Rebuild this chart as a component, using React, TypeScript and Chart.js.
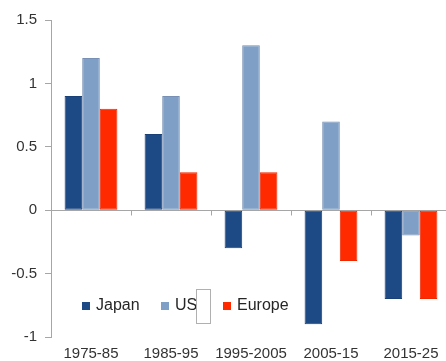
import React, { useEffect, useRef } from "react";
import { Chart, registerables } from "chart.js";

Chart.register(...registerables);

const categories = ["1975-85", "1985-95", "1995-2005", "2005-15", "2015-25"];
const japan = [0.9, 0.6, -0.3, -0.9, -0.7];
const us = [1.2, 0.9, 1.3, 0.7, -0.2];
const europe = [0.8, 0.3, 0.3, -0.4, -0.7];
const seriesNames = ["Japan", "US", "Europe"];

const colors = ["#1d4a85", "#7f9fc7", "#ff2a00"];
const borders = ["#1a4177", "#7890b4", "#f02800"];

const zeroLinePlugin = {
  id: "zeroLine",
  beforeDatasetsDraw(chart: any) {
    const { ctx, chartArea, scales } = chart;
    const y0 = Math.round(scales.y.getPixelForValue(0)) + 0.5;
    ctx.save();
    ctx.strokeStyle = "#a6a6a6";
    ctx.lineWidth = 1;
    ctx.beginPath();
    ctx.moveTo(chartArea.left, y0);
    ctx.lineTo(chartArea.right, y0);
    const n = chart.data.labels.length;
    const step = (chartArea.right - chartArea.left) / n;
    for (let i = 1; i < n; i++) {
      const x = Math.round(chartArea.left + step * i) + 0.5;
      ctx.moveTo(x, y0);
      ctx.lineTo(x, y0 + 5);
    }
    ctx.stroke();
    ctx.restore();
  },
};

const legendPlugin = {
  id: "customLegend",
  afterDraw(chart: any) {
    const { ctx } = chart;
    ctx.save();
    ctx.font = "16px 'Liberation Sans', Arial, sans-serif";
    ctx.textBaseline = "middle";
    const yc = 306;
    const starts = [82, 161, 223];
    chart.data.datasets.forEach((ds: any, i: number) => {
      const x = starts[i];
      ctx.fillStyle = ds.backgroundColor;
      ctx.fillRect(x, yc - 4, 8, 8);
      ctx.fillStyle = "#262626";
      ctx.fillText(ds.label, x + 14, yc);
    });
    // stray white box next to "US"
    ctx.fillStyle = "#ffffff";
    ctx.fillRect(196, 289, 14, 34);
    ctx.strokeStyle = "#b0b0b0";
    ctx.lineWidth = 1;
    ctx.strokeRect(196.5, 289.5, 14, 34);
    ctx.restore();
  },
};

export default function App() {
  const ref = useRef<HTMLCanvasElement | null>(null);
  useEffect(() => {
    if (!ref.current) return;
    const values = [japan, us, europe];
    const chart = new Chart(ref.current, {
      type: "bar",
      data: {
        labels: categories,
        datasets: seriesNames.map((name, i) => ({
          label: name,
          data: values[i],
          backgroundColor: colors[i],
          borderColor: borders[i],
          borderWidth: 1,
          borderSkipped: false,
          categoryPercentage: 0.66,
          barPercentage: 1,
        })),
      },
      options: {
        animation: false,
        responsive: false,
        maintainAspectRatio: false,
        layout: { padding: { top: 20, left: 0, right: 0, bottom: 0 } },
        plugins: { legend: { display: false }, tooltip: { enabled: false } },
        scales: {
          x: {
            grid: { display: false, drawTicks: false },
            border: { display: false },
            ticks: {
              padding: 8,
              color: "#333333",
              font: { family: "'Liberation Sans', Arial, sans-serif", size: 15 },
              maxRotation: 0,
              autoSkip: false,
            },
            afterFit: (s: any) => {
              s.height = 24;
            },
          },
          y: {
            min: -1,
            max: 1.5,
            ticks: {
              stepSize: 0.5,
              padding: 8,
              color: "#333333",
              font: { family: "'Liberation Sans', Arial, sans-serif", size: 15 },
              callback: (v: any) => String(Number(v)),
            },
            grid: {
              drawOnChartArea: false,
              drawTicks: true,
              tickLength: 6,
              color: "#a6a6a6",
            },
            border: { display: true, color: "#a6a6a6" },
            afterFit: (s: any) => {
              s.width = 51;
            },
          },
        },
      },
      plugins: [zeroLinePlugin, legendPlugin],
    });
    return () => chart.destroy();
  }, []);
  return (
    <div style={{ position: "fixed", left: 0, top: 0, width: 446, height: 361, overflow: "hidden", background: "#fff" }}>
      <canvas ref={ref} width={451} height={361} style={{ display: "block", width: 451, height: 361 }} />
    </div>
  );
}
